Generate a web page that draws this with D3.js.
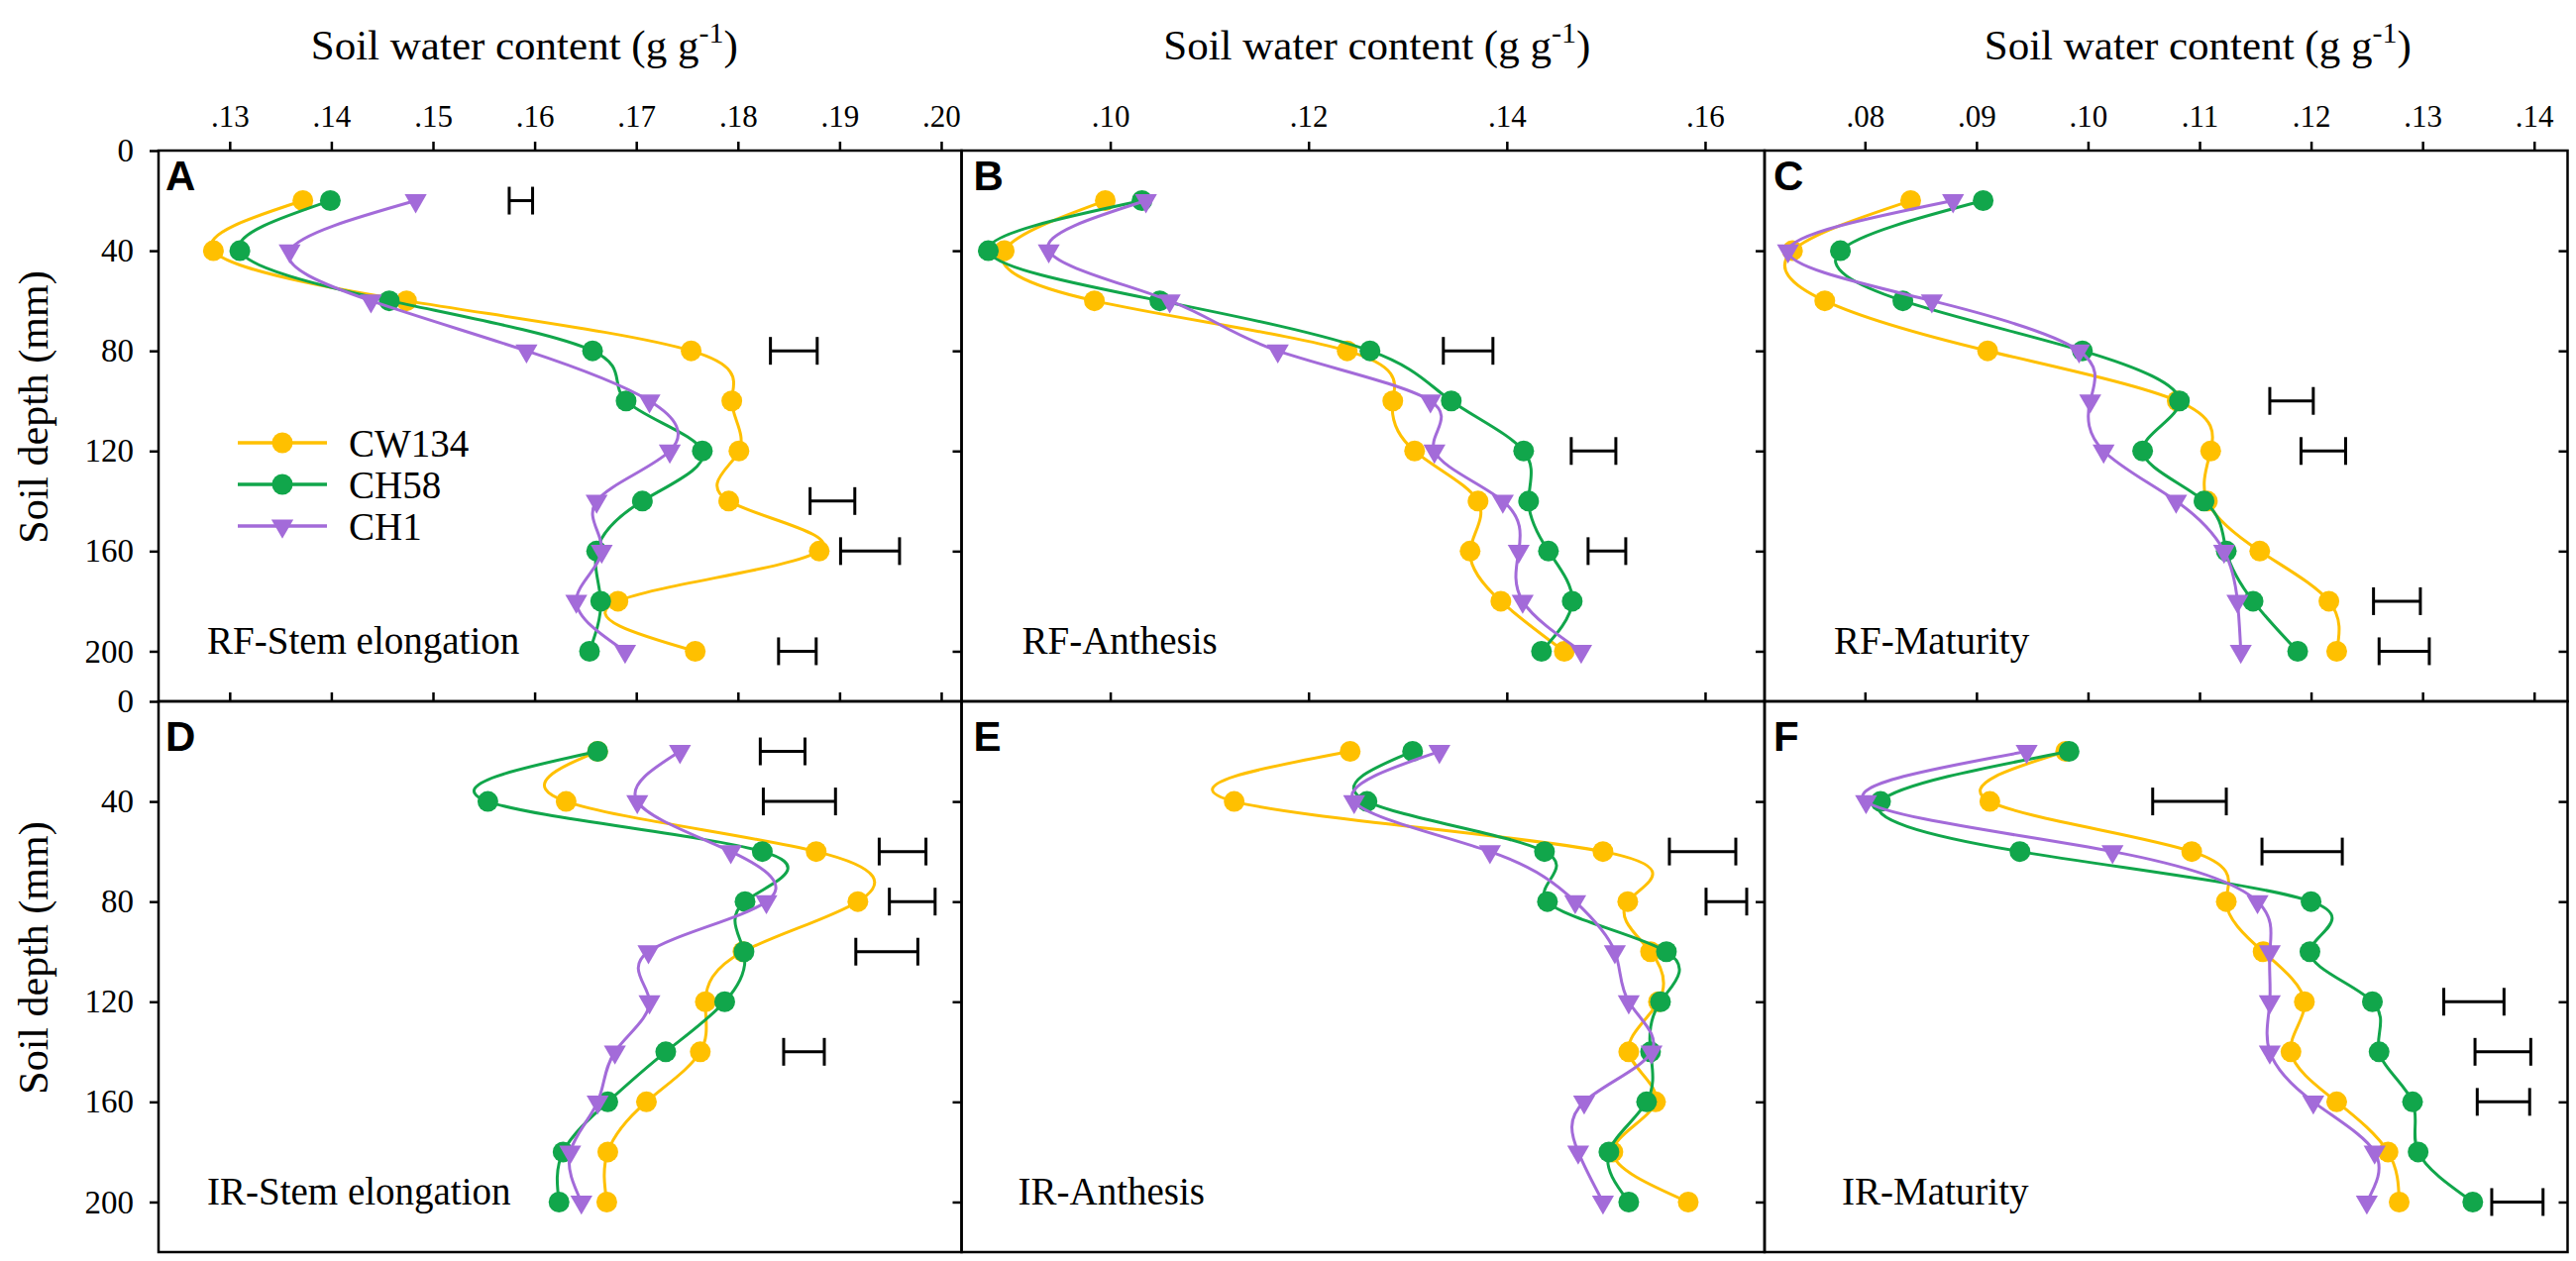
<!DOCTYPE html>
<html><head><meta charset="utf-8">
<script src="https://cdn.jsdelivr.net/npm/d3@7/dist/d3.min.js"></script>
<style>body{margin:0;background:#fff}svg{display:block}</style>
</head><body>
<svg id="chart" width="2600" height="1273"></svg>
<script>
// ---------- data ----------
const depths = [20, 40, 60, 80, 100, 120, 140, 160, 180, 200];
const seriesNames = ["CW134", "CH58", "CH1"];
const panelIds = ["A", "B", "C", "D", "E", "F"];
const panelNames = ["RF-Stem elongation", "RF-Anthesis", "RF-Maturity",
                    "IR-Stem elongation", "IR-Anthesis", "IR-Maturity"];

const A_CW134 = [.1372, .1284, .1474, .1754, .1794, .1801, .1791, .1880, .1682, .1758];
const A_CH58  = [.1399, .1310, .1457, .1657, .1690, .1765, .1706, .1661, .1665, .1654];
const A_CH1   = [.1483, .1359, .1439, .1592, .1713, .1733, .1661, .1666, .1641, .1689];
const A_errDepth = [20, 80, 140, 160, 200];
const A_errLo = [.1575, .1832, .1871, .1901, .1840];
const A_errHi = [.1598, .1878, .1915, .1959, .1877];

const B_CW134 = [.0995, .0893, .0984, .1239, .1285, .1307, .1371, .1363, .1394, .1458];
const B_CH58  = [.1032, .0877, .1050, .1262, .1344, .1417, .1422, .1442, .1466, .1435];
const B_CH1   = [.1036, .0938, .1060, .1169, .1323, .1327, .1396, .1412, .1416, .1475];
const B_errDepth = [80, 120, 160];
const B_errLo = [.1336, .1465, .1482];
const B_errHi = [.1386, .1510, .1520];

const C_CW134 = [.0841, .0735, .0764, .0910, .1080, .1110, .1107, .1154, .1216, .1223];
const C_CH58  = [.0906, .0778, .0834, .0995, .1082, .1049, .1104, .1124, .1148, .1188];
const C_CH1   = [.0879, .0731, .0860, .0992, .1002, .1014, .1079, .1122, .1134, .1137];
const C_errDepth = [100, 120, 180, 200];
const C_errLo = [.1163, .1191, .1256, .1261];
const C_errHi = [.1202, .1231, .1298, .1306];

const D_CW134 = [.1662, .1631, .1877, .1918, .1805, .1768, .1763, .1710, .1672, .1671];
const D_CH58  = [.1662, .1554, .1824, .1807, .1806, .1787, .1729, .1672, .1628, .1624];
const D_CH1   = [.1743, .1701, .1793, .1828, .1712, .1713, .1679, .1662, .1635, .1646];
const D_errDepth = [20, 40, 60, 80, 100, 140];
const D_errLo = [.1822, .1825, .1939, .1949, .1916, .1845];
const D_errHi = [.1866, .1896, .1985, .1994, .1977, .1885];

const E_CW134 = [.1242, .1125, .1497, .1522, .1545, .1553, .1523, .1550, .1507, .1583];
const E_CH58  = [.1305, .1259, .1438, .1441, .1561, .1555, .1545, .1541, .1503, .1523];
const E_CH1   = [.1332, .1246, .1383, .1469, .1509, .1523, .1546, .1478, .1472, .1497];
const E_errDepth = [60, 80];
const E_errLo = [.1564, .1601];
const E_errHi = [.1631, .1642];

const F_CW134 = [.0980, .0912, .1093, .1124, .1157, .1194, .1182, .1223, .1269, .1279];
const F_CH58  = [.0983, .0814, .0939, .1200, .1199, .1255, .1261, .1291, .1296, .1345];
const F_CH1   = [.0945, .0801, .1022, .1152, .1163, .1163, .1163, .1202, .1257, .1250];
const F_errDepth = [40, 60, 120, 140, 160, 200];
const F_errLo = [.1058, .1156, .1319, .1347, .1349, .1362];
const F_errHi = [.1124, .1228, .1373, .1397, .1396, .1408];

const xTicksCol0 = [.13, .14, .15, .16, .17, .18, .19, .20];
const xTicksCol1 = [.10, .12, .14, .16];
const xTicksCol2 = [.08, .09, .10, .11, .12, .13, .14];
const yTicks = [0, 40, 80, 120, 160, 200];

// ---------- assemble ----------
const panelSeries = [
  [A_CW134, A_CH58, A_CH1], [B_CW134, B_CH58, B_CH1], [C_CW134, C_CH58, C_CH1],
  [D_CW134, D_CH58, D_CH1], [E_CW134, E_CH58, E_CH1], [F_CW134, F_CH58, F_CH1]];
const panelErr = [
  [A_errDepth, A_errLo, A_errHi], [B_errDepth, B_errLo, B_errHi], [C_errDepth, C_errLo, C_errHi],
  [D_errDepth, D_errLo, D_errHi], [E_errDepth, E_errLo, E_errHi], [F_errDepth, F_errLo, F_errHi]];
const xDomains = [[0.123, 0.202], [0.085, 0.166], [0.071, 0.143]];
const xTicks = [xTicksCol0, xTicksCol1, xTicksCol2];

// ---------- layout / style ----------
const mLeft = 160, mTop = 152, colW = 810.5, rowH = 556;
const colors = ["#FFC000", "#11A64B", "#A36BD9"];
const serif = "'Liberation Serif','Times New Roman',serif";
const sans = "'Liberation Sans',Arial,sans-serif";
const titleOffset = [-36, 14, 32];
const letterDx = [7, 12, 9];
const nameDx = [49, 61, 70, 49, 57, 78];

const svg = d3.select("#chart");
const fmt = v => d3.format(".2f")(v).replace(/^0/, "");

for (let p = 0; p < 6; p++) {
  const r = Math.floor(p / 3), c = p % 3;
  const x0 = mLeft + c * colW, y0 = mTop + r * rowH;
  const xs = d3.scaleLinear().domain(xDomains[c]).range([x0, x0 + colW]);
  const ys = d3.scaleLinear().domain([0, 220]).range([y0, y0 + rowH]);
  const g = svg.append("g");

  if (r === 0) {
    const ax = g.append("g").attr("transform", `translate(0,${y0})`)
      .call(d3.axisTop(xs).tickValues(xTicks[c]).tickSize(9).tickSizeOuter(0).tickPadding(15).tickFormat(fmt));
    ax.select(".domain").remove();
    ax.selectAll("line").attr("stroke", "#000").attr("stroke-width", 2.5);
    ax.selectAll("text").attr("font-family", serif).attr("font-size", 31).attr("fill", "#000");
    const bx = g.append("g").attr("transform", `translate(0,${y0 + rowH})`)
      .call(d3.axisTop(xs).tickValues(xTicks[c]).tickSize(9).tickSizeOuter(0).tickFormat(""));
    bx.select(".domain").remove();
    bx.selectAll("line").attr("stroke", "#000").attr("stroke-width", 2.5);
  }
  if (c === 0) {
    const ay = g.append("g").attr("transform", `translate(${x0},0)`)
      .call(d3.axisLeft(ys).tickValues(yTicks).tickSize(9).tickSizeOuter(0).tickPadding(16));
    ay.select(".domain").remove();
    ay.selectAll("line").attr("stroke", "#000").attr("stroke-width", 2.5);
    ay.selectAll("text").attr("font-family", serif).attr("font-size", 33).attr("fill", "#000");
  }
  const ar = g.append("g").attr("transform", `translate(${x0 + colW},0)`)
    .call(d3.axisLeft(ys).tickValues(yTicks.slice(1)).tickSize(9).tickSizeOuter(0).tickFormat(""));
  ar.select(".domain").remove();
  ar.selectAll("line").attr("stroke", "#000").attr("stroke-width", 2.5);

  g.append("rect").attr("x", x0).attr("y", y0).attr("width", colW).attr("height", rowH)
    .attr("fill", "none").attr("stroke", "#000").attr("stroke-width", 2.5);

  const [ed, elo, ehi] = panelErr[p];
  const eb = g.append("g").attr("stroke", "#000").attr("stroke-width", 3);
  ed.forEach((d, i) => {
    const yy = ys(d), xa = xs(elo[i]), xb = xs(ehi[i]);
    eb.append("line").attr("x1", xa).attr("x2", xb).attr("y1", yy).attr("y2", yy);
    eb.append("line").attr("x1", xa).attr("x2", xa).attr("y1", yy - 14).attr("y2", yy + 14);
    eb.append("line").attr("x1", xb).attr("x2", xb).attr("y1", yy - 14).attr("y2", yy + 14);
  });

  const line = d3.line().x(d => xs(d[0])).y(d => ys(d[1])).curve(d3.curveNatural);
  panelSeries[p].forEach((vals, s) => {
    const pts = vals.map((v, i) => [v, depths[i]]);
    g.append("path").attr("d", line(pts)).attr("fill", "none")
      .attr("stroke", colors[s]).attr("stroke-width", 3);
    if (s < 2) {
      g.selectAll(null).data(pts).enter().append("circle")
        .attr("cx", d => xs(d[0])).attr("cy", d => ys(d[1])).attr("r", 10.5).attr("fill", colors[s]);
    } else {
      const tri = d3.symbol().type(d3.symbolTriangle).size(215);
      g.selectAll(null).data(pts).enter().append("path").attr("d", tri)
        .attr("transform", d => `translate(${xs(d[0])},${ys(d[1])}) rotate(180)`).attr("fill", colors[s]);
    }
  });

  g.append("text").attr("x", x0 + letterDx[c]).attr("y", y0 + (r === 0 ? 40 : 50))
    .attr("font-family", sans).attr("font-weight", "bold").attr("font-size", 42).text(panelIds[p]);
  g.append("text").attr("x", x0 + nameDx[p]).attr("y", ys(200) + 3)
    .attr("font-family", serif).attr("font-size", 39).text(panelNames[p]);

  if (r === 0) {
    const t = svg.append("text").attr("x", x0 + colW / 2 + titleOffset[c]).attr("y", 60)
      .attr("text-anchor", "middle").attr("font-family", serif).attr("font-size", 43);
    t.append("tspan").text("Soil water content (g g");
    t.append("tspan").attr("font-size", 30).attr("dy", -17).text("-1");
    t.append("tspan").attr("dy", 17).text(")");
  }
  if (c === 0) {
    svg.append("text").attr("transform", `translate(48,${y0 + rowH / 2 - 19}) rotate(-90)`)
      .attr("text-anchor", "middle").attr("font-family", serif).attr("font-size", 42)
      .text("Soil depth (mm)");
  }
  if (p === 0) {
    seriesNames.forEach((n, s) => {
      const ly = y0 + 295 + s * 42;
      g.append("line").attr("x1", x0 + 80).attr("x2", x0 + 170).attr("y1", ly).attr("y2", ly)
        .attr("stroke", colors[s]).attr("stroke-width", 3.5);
      if (s < 2) g.append("circle").attr("cx", x0 + 125).attr("cy", ly).attr("r", 10.5).attr("fill", colors[s]);
      else g.append("path").attr("d", d3.symbol().type(d3.symbolTriangle).size(215))
        .attr("transform", `translate(${x0 + 125},${ly}) rotate(180)`).attr("fill", colors[s]);
      g.append("text").attr("x", x0 + 192).attr("y", ly).attr("dy", "0.35em")
        .attr("font-family", serif).attr("font-size", 39).text(n);
    });
  }
}
</script>
</body></html>
